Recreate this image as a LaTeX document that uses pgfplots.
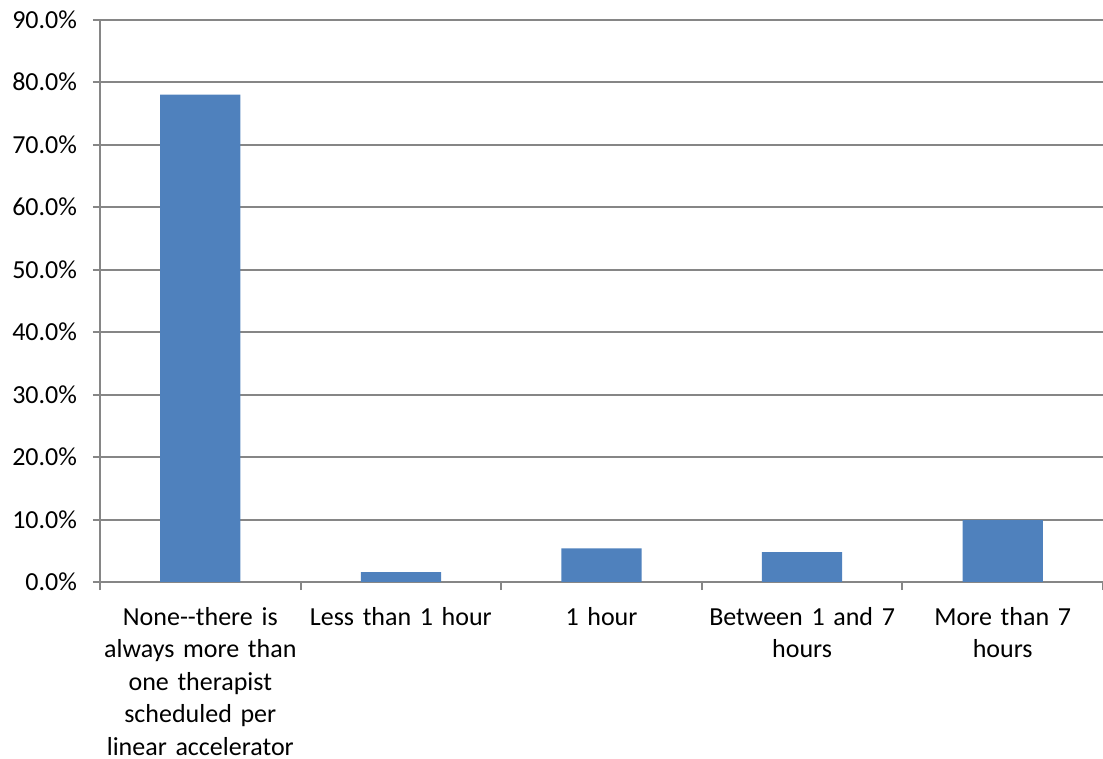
\documentclass[border=0pt]{standalone}
\usepackage{fontspec}
\setmainfont{Carlito}
\usepackage{pgfplots}
\pgfplotsset{compat=1.18}
\definecolor{barblue}{HTML}{4F81BD}
\definecolor{axgray}{HTML}{868686}
\begin{document}
\fontsize{13bp}{16.25bp}\selectfont
\begin{tikzpicture}
\useasboundingbox (0,0) rectangle (551.5bp,379.5bp);
\begin{axis}[
    at={(50bp,88.5bp)}, anchor=south west,
    width=501.5bp, height=281.25bp, scale only axis,
    xmin=-0.5, xmax=4.5, ymin=0, ymax=90,
    axis x line*=bottom, axis y line*=left,
    axis line style={axgray, line width=1bp},
    ytick={0,10,...,90},
    ymajorgrids, grid style={axgray, line width=1bp},
    tick align=outside, major tick length=3.5bp,
    y tick style={axgray, line width=1bp},
    /pgf/number format/assume math mode=true,
    yticklabel={\pgfmathprintnumber[fixed,fixed zerofill,precision=1]{\tick}\%},
    yticklabel style={font=\fontsize{13bp}{16.25bp}\selectfont, xshift=-3.5bp},
    xtick={0,...,4},
    xticklabels={{None-{}-there is\\always more than\\one therapist\\scheduled per\\linear accelerator},
        {Less than 1 hour}, {1 hour}, {Between 1 and 7\\hours}, {More than 7\\hours}},
    xticklabel style={align=center, text width=100bp, font=\fontsize{13bp}{16.25bp}\selectfont, yshift=-4.5bp},
    x tick style={draw=none},
    extra x ticks={-0.5,0.5,1.5,2.5,3.5,4.5},
    extra x tick labels={},
    extra x tick style={x tick style={draw=axgray, line width=1bp}, major tick length=4bp},
]
\addplot[ybar, bar width=0.4, fill=barblue, draw=none]
    coordinates {(0,78.0) (1,1.6) (2,5.4) (3,4.8) (4,9.9)};
\end{axis}
\end{tikzpicture}
\end{document}
